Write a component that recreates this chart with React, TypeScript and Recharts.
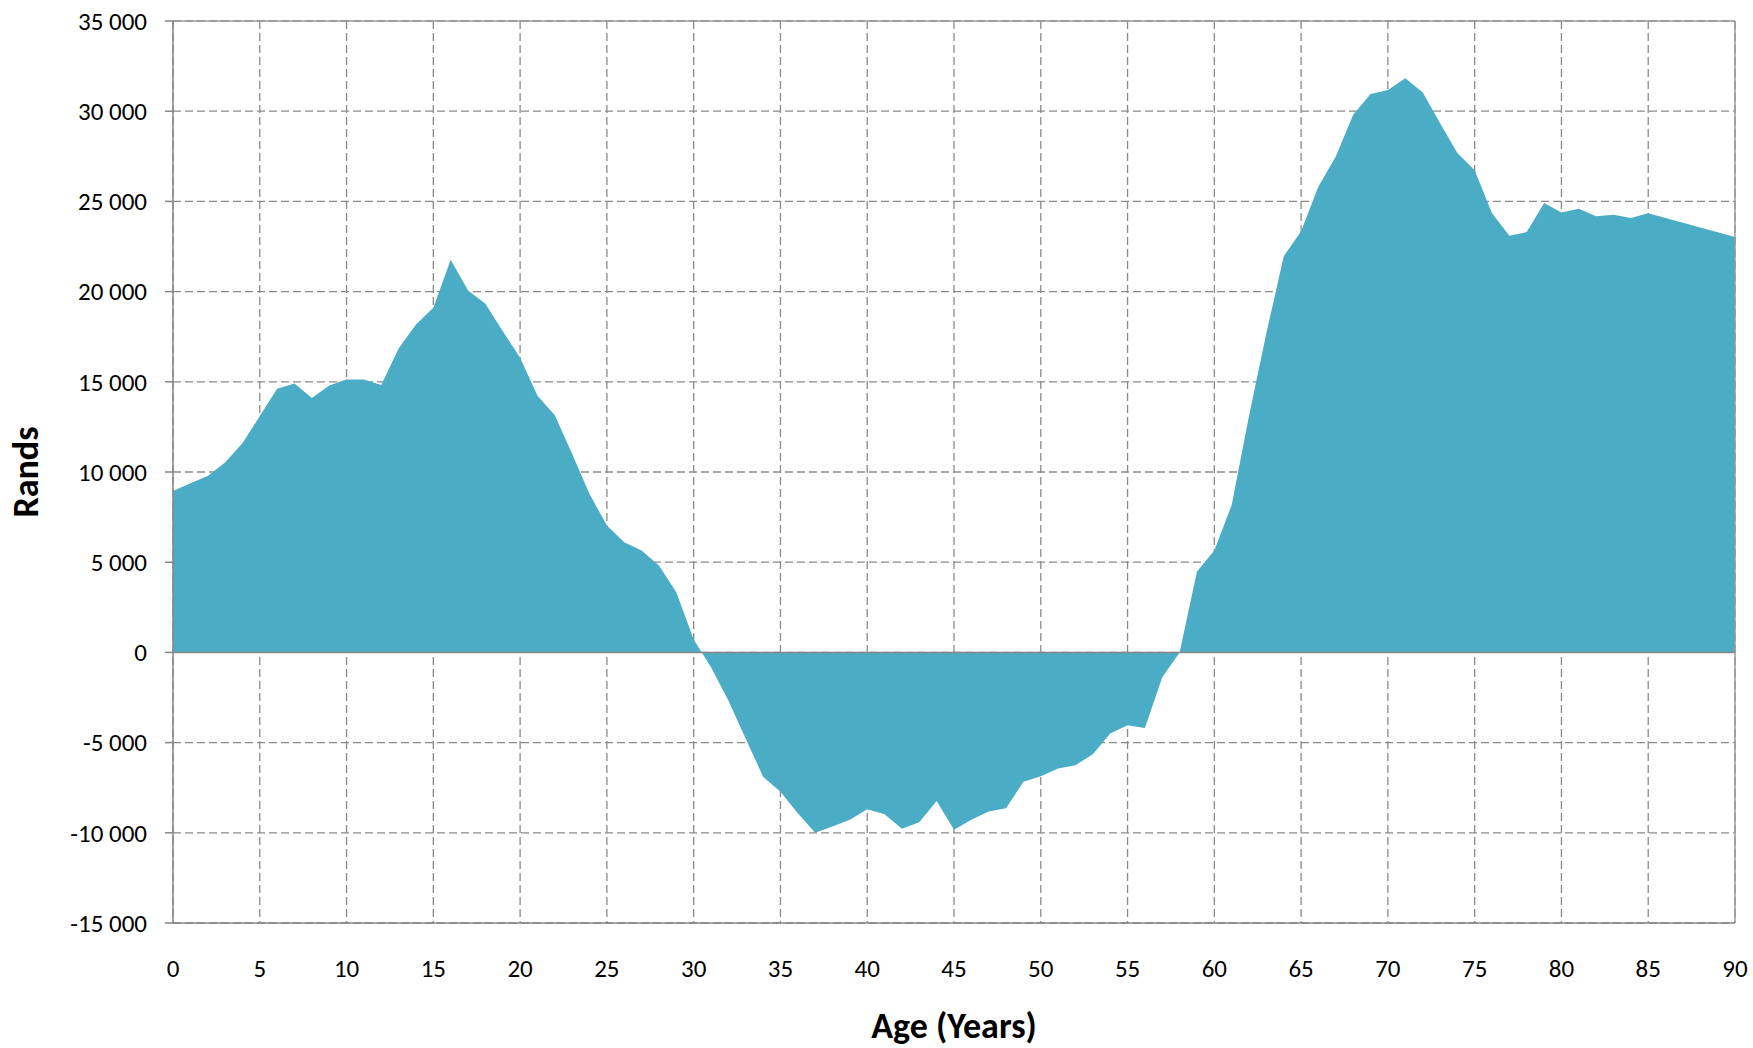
import { AreaChart, Area, XAxis, YAxis, CartesianGrid, ReferenceLine } from 'recharts';

// ages 86-89 are not plotted: the reference draws a straight run from 85 to 90
const AGES = [
  0, 1, 2, 3, 4, 5, 6, 7, 8, 9,
  10, 11, 12, 13, 14, 15, 16, 17, 18, 19,
  20, 21, 22, 23, 24, 25, 26, 27, 28, 29,
  30, 31, 32, 33, 34, 35, 36, 37, 38, 39,
  40, 41, 42, 43, 44, 45, 46, 47, 48, 49,
  50, 51, 52, 53, 54, 55, 56, 57, 58, 59,
  60, 61, 62, 63, 64, 65, 66, 67, 68, 69,
  70, 71, 72, 73, 74, 75, 76, 77, 78, 79,
  80, 81, 82, 83, 84, 85, 90,
];

const RANDS = [
  8950, 9370, 9780, 10520, 11590, 13100, 14610, 14910, 14100, 14800,
  15130, 15130, 14820, 16850, 18170, 19100, 21770, 20060, 19320, 17800,
  16330, 14230, 13150, 11000, 8780, 7030, 6110, 5650, 4820, 3340,
  720, -830, -2670, -4780, -6890, -7720, -8920, -10000, -9650, -9280,
  -8700, -8970, -9780, -9410, -8240, -9830, -9280, -8820, -8640, -7170,
  -6860, -6430, -6250, -5640, -4500, -4040, -4190, -1380, 0, 4480,
  5650, 8170, 13120, 17700, 21960, 23340, 25830, 27490, 29800, 30960,
  31180, 31830, 31050, 29340, 27680, 26720, 24350, 23100, 23300, 24910,
  24390, 24590, 24170, 24260, 24080, 24350, 23030,
];

const X_TICKS = [0, 5, 10, 15, 20, 25, 30, 35, 40, 45, 50, 55, 60, 65, 70, 75, 80, 85, 90];
const Y_TICKS = [-15000, -10000, -5000, 0, 5000, 10000, 15000, 20000, 25000, 30000, 35000];

const data = AGES.map((age, i) => ({ age, rands: RANDS[i] }));

const FONT = 'Carlito, Calibri, Lato, sans-serif';
const AXIS_GREY = '#868686';

const fmtRands = (v: number) =>
  `${v < 0 ? '-' : ''}${Math.abs(v).toLocaleString('en-US').replace(/,/g, ' ')}`;

export default function App() {
  return (
    <div style={{ position: 'absolute', left: 0, top: 0, background: '#fff' }}>
      <AreaChart
        width={1753}
        height={1048}
        data={data}
        margin={{ top: 21, right: 18, bottom: 0, left: 0 }}
        style={{ fontFamily: FONT }}
      >
        <CartesianGrid stroke="#8a8a8a" strokeWidth={1.3} strokeDasharray="8 4" />
        <XAxis
          dataKey="age"
          type="number"
          domain={[0, 90]}
          ticks={X_TICKS}
          height={125}
          tickLine={false}
          tickSize={0}
          tickMargin={36}
          axisLine={{ stroke: AXIS_GREY, strokeWidth: 1.5 }}
          tick={{ fill: '#000', fontSize: 25, fontFamily: FONT }}
          label={{
            value: 'Age (Years)',
            position: 'insideBottom',
            offset: 10,
            style: { fill: '#000', fontSize: 36, fontWeight: 700, fontFamily: FONT },
          }}
        />
        <YAxis
          type="number"
          domain={[-15000, 35000]}
          ticks={Y_TICKS}
          width={173}
          tickSize={8}
          tickMargin={18}
          tickFormatter={fmtRands}
          axisLine={{ stroke: AXIS_GREY, strokeWidth: 1.5 }}
          tickLine={{ stroke: AXIS_GREY, strokeWidth: 1.5 }}
          tick={{ fill: '#000', fontSize: 25, fontFamily: FONT }}
          label={{
            value: 'Rands',
            angle: -90,
            position: 'insideLeft',
            offset: 25,
            style: { textAnchor: 'middle', fill: '#000', fontSize: 36, fontWeight: 700, fontFamily: FONT },
          }}
        />
        <Area
          type="linear"
          dataKey="rands"
          baseValue={0}
          stroke="none"
          fill="#4BACC6"
          fillOpacity={1}
          isAnimationActive={false}
        />
        <ReferenceLine y={0} stroke={AXIS_GREY} strokeWidth={1.5} />
        <ReferenceLine y={35000} stroke="#9a9a9a" strokeWidth={1.5} />
        <ReferenceLine x={90} stroke="#9a9a9a" strokeWidth={1.5} />
      </AreaChart>
    </div>
  );
}
